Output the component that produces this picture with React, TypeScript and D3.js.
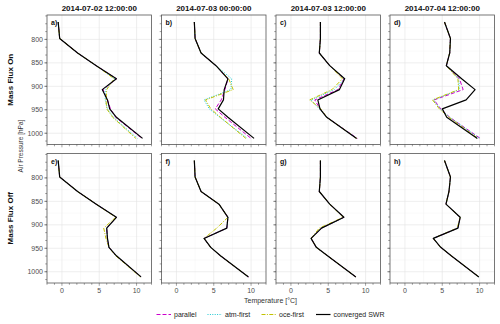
import React from "react";
import * as d3 from "d3";

// ---------- data ----------
const pressureLevels = [763, 798, 829, 856, 884, 907, 929, 948, 966, 1011];
const panelTitles = ["2014-07-02 12:00:00", "2014-07-03 00:00:00", "2014-07-03 12:00:00", "2014-07-04 12:00:00"];
const rowLabels = ["Mass Flux On", "Mass Flux Off"];
const panelLetters = ["a)", "b)", "c)", "d)", "e)", "f)", "g)", "h)"];
const xTicks = [0, 5, 10];
const yTicks = [800, 850, 900, 950, 1000];
const seriesNames = ["parallel", "atm-first", "oce-first", "converged SWR"];

// temperature per panel (a..h) at pressureLevels
const parallel = [
  [-0.5, -0.3, 2.1, 4.6, 7.3, 5.5, 6.1, 6.5, 7.2, 10.7],
  [2.4, 2.5, 3.3, 5.3, 6.9, 6.5, 6.0, 5.2, 6.5, 10.0],
  [3.95, 3.95, 3.8, 5.2, 7.1, 6.3, 3.2, 3.9, 4.8, 8.9],
  [5.3, 6.1, 6.0, 5.55, 7.3, 7.8, 3.9, 4.8, 6.0, 10.1],
  [-0.5, -0.3, 2.1, 4.6, 7.3, 6.0, 6.1, 6.3, 7.3, 10.6],
  [2.4, 2.5, 3.3, 5.7, 6.9, 6.75, 3.7, 4.6, 5.9, 9.65],
  [3.95, 3.95, 3.8, 5.2, 7.1, 4.1, 2.7, 3.4, 4.9, 8.7],
  [5.3, 6.1, 5.9, 5.5, 7.4, 7.1, 3.8, 4.8, 6.2, 9.9],
];
const atmFirst = [
  [-0.5, -0.3, 2.1, 4.6, 7.1, 5.8, 5.8, 6.1, 6.9, 10.1],
  [2.4, 2.5, 3.3, 5.3, 7.4, 7.3, 3.7, 4.4, 5.8, 9.5],
  [3.95, 3.95, 3.8, 5.2, 7.2, 5.8, 2.7, 3.8, 4.8, 8.8],
  [5.3, 6.1, 6.0, 5.55, 7.2, 7.3, 3.8, 4.7, 6.0, 10.0],
  [-0.5, -0.3, 2.1, 4.6, 7.3, 6.0, 6.1, 6.3, 7.3, 10.6],
  [2.4, 2.5, 3.3, 5.7, 6.9, 6.75, 3.7, 4.6, 5.9, 9.65],
  [3.95, 3.95, 3.8, 5.2, 7.1, 4.1, 2.7, 3.4, 4.9, 8.7],
  [5.3, 6.1, 5.9, 5.5, 7.4, 7.1, 3.8, 4.8, 6.2, 9.9],
];
const oceFirst = [
  [-0.5, -0.3, 2.1, 4.6, 7.0, 6.0, 5.9, 6.0, 6.8, 9.9],
  [2.4, 2.5, 3.3, 5.3, 7.0, 7.6, 3.9, 4.6, 5.9, 9.3],
  [3.95, 3.95, 3.8, 5.2, 6.9, 5.5, 2.5, 4.0, 4.8, 8.8],
  [5.3, 6.1, 6.0, 5.55, 7.1, 7.2, 3.7, 4.6, 5.9, 9.8],
  [-0.5, -0.3, 2.1, 4.6, 7.2, 5.6, 5.9, 6.3, 7.2, 10.5],
  [2.4, 2.5, 3.3, 5.7, 6.9, 5.4, 3.7, 4.6, 5.9, 9.65],
  [3.95, 3.95, 3.8, 5.2, 7.0, 3.8, 2.7, 3.4, 4.9, 8.7],
  [5.3, 6.1, 5.9, 5.5, 7.4, 7.0, 3.8, 4.8, 6.2, 9.9],
];
const convergedSWR = [
  [-0.5, -0.3, 2.1, 4.6, 7.3, 5.4, 6.1, 6.4, 7.3, 10.8],
  [2.4, 2.5, 3.3, 5.3, 6.9, 6.4, 6.3, 5.6, 6.9, 10.4],
  [3.95, 3.95, 3.8, 5.2, 7.2, 6.5, 3.6, 3.9, 4.8, 8.8],
  [5.3, 6.1, 6.0, 5.55, 7.6, 9.4, 8.2, 5.0, 5.6, 9.7],
  [-0.5, -0.3, 2.1, 4.6, 7.3, 6.0, 6.1, 6.3, 7.3, 10.6],
  [2.4, 2.5, 3.3, 5.7, 6.9, 6.75, 3.7, 4.6, 5.9, 9.65],
  [3.95, 3.95, 3.8, 5.2, 7.1, 4.1, 2.7, 3.4, 4.9, 8.7],
  [5.3, 6.1, 5.9, 5.5, 7.4, 7.1, 3.8, 4.8, 6.2, 9.9],
];

// ---------- styles ----------
const seriesData = [parallel, atmFirst, oceFirst, convergedSWR];
const seriesColors = ["#cc00cc", "#1ec8d2", "#c2c200", "#000000"];
const seriesDash = ["4,2", "1,1.4", "4,1.4,1,1.4", null];
const seriesWidth = [1, 1, 1, 1.2];

const FONT = "'Liberation Sans', Arial, Helvetica, sans-serif";
const lefts = [47, 161.5, 276, 390];
const tops = [15, 153.5];
const PW = 104.5;
const PH = 129.5;

export default function App() {
  const x = d3.scaleLinear().domain([-2, 12]).range([0, PW]);
  const y = d3.scaleLinear().domain([748, 1024]).range([0, PH]);
  const xMinor = d3.range(-2, 12.01, 1);
  const yMinorTicks = d3.range(750, 1024, 50 / 3);
  const line = d3
    .line<[number, number]>()
    .x((d) => x(d[0]))
    .y((d) => y(d[1]));

  const panels: JSX.Element[] = [];
  for (let r = 0; r < 2; r++) {
    for (let c = 0; c < 4; c++) {
      const idx = r * 4 + c;
      const L = lefts[c];
      const T = tops[r];
      panels.push(
        <g key={idx} transform={`translate(${L},${T})`}>
          <rect x={0} y={0} width={PW} height={PH} fill="#fff" />
          {/* minor grid */}
          {[2.5, 7.5].map((v) => (
            <line key={"xm" + v} x1={x(v)} x2={x(v)} y1={0} y2={PH} stroke="#f3f3f3" strokeWidth={0.5} />
          ))}
          {[775, 825, 875, 925, 975].map((v) => (
            <line key={"ym" + v} x1={0} x2={PW} y1={y(v)} y2={y(v)} stroke="#f3f3f3" strokeWidth={0.5} />
          ))}
          {/* major grid */}
          {xTicks.map((v) => (
            <line key={"xg" + v} x1={x(v)} x2={x(v)} y1={0} y2={PH} stroke="#e3e3e3" strokeWidth={0.6} />
          ))}
          {yTicks.map((v) => (
            <line key={"yg" + v} x1={0} x2={PW} y1={y(v)} y2={y(v)} stroke="#e3e3e3" strokeWidth={0.6} />
          ))}
          {/* series */}
          {seriesData.map((s, si) => (
            <path
              key={"s" + si}
              d={line(pressureLevels.map((p, i) => [s[idx][i], p]) as [number, number][]) || ""}
              fill="none"
              stroke={seriesColors[si]}
              strokeWidth={seriesWidth[si]}
              strokeDasharray={seriesDash[si] || undefined}
              strokeLinejoin="round"
            />
          ))}
          <rect x={0} y={0} width={PW} height={PH} fill="none" stroke="#555" strokeWidth={0.8} />
          {/* ticks */}
          {xMinor.map((v) => (
            <line key={"xt" + v} x1={x(v)} x2={x(v)} y1={PH} y2={PH + (v % 5 === 0 ? 2.8 : 1.8)} stroke="#444" strokeWidth={0.5} />
          ))}
          {yMinorTicks.map((v, i) => (
            <line key={"yt" + i} x1={0} x2={-1.8} y1={y(v)} y2={y(v)} stroke="#444" strokeWidth={0.5} />
          ))}
          {yTicks.map((v) => (
            <line key={"ytm" + v} x1={0} x2={-2.8} y1={y(v)} y2={y(v)} stroke="#444" strokeWidth={0.5} />
          ))}
          {c === 0 &&
            yTicks.map((v) => (
              <text key={"yl" + v} x={-4} y={y(v)} dy="0.35em" textAnchor="end" fontSize={7} fill="#4d4d4d" fontFamily={FONT}>
                {v}
              </text>
            ))}
          {r === 1 &&
            xTicks.map((v) => (
              <text key={"xl" + v} x={x(v)} y={PH + 9.5} textAnchor="middle" fontSize={7} fill="#4d4d4d" fontFamily={FONT}>
                {v}
              </text>
            ))}
          <text x={4} y={10} fontSize={7} fontWeight="bold" fill="#111" fontFamily={FONT}>
            {panelLetters[idx]}
          </text>
          {r === 0 && (
            <text x={PW / 2} y={-4} textAnchor="middle" fontSize={8} fontWeight="bold" fill="#111" fontFamily={FONT}>
              {panelTitles[c]}
            </text>
          )}
        </g>
      );
    }
  }

  const legendX = [156.5, 207.5, 261.5, 316];
  const legendY = 314.5;

  return (
    <svg width={500} height={324} style={{ position: "absolute", left: 0, top: 0, background: "#fff" }}>
      <rect width={500} height={324} fill="#fff" />
      {panels}
      {rowLabels.map((t, r) => (
        <text
          key={t}
          transform={`translate(12.5,${tops[r] + PH / 2}) rotate(-90)`}
          textAnchor="middle"
          fontSize={8}
          fontWeight="bold"
          fill="#111"
          fontFamily={FONT}
        >
          {t}
        </text>
      ))}
      <text transform={`translate(22.5,146) rotate(-90)`} textAnchor="middle" fontSize={6.5} fill="#333" fontFamily={FONT}>
        Air Pressure [hPa]
      </text>
      <text x={270.5} y={303} textAnchor="middle" fontSize={7} fill="#333" fontFamily={FONT}>
        Temperature [°C]
      </text>
      {seriesNames.map((n, i) => (
        <g key={n} transform={`translate(${legendX[i]},${legendY})`}>
          <line
            x1={0}
            x2={14.5}
            y1={0}
            y2={0}
            stroke={seriesColors[i]}
            strokeWidth={seriesWidth[i]}
            strokeDasharray={seriesDash[i] || undefined}
          />
          <text x={17.5} y={0} dy="0.35em" fontSize={7} fill="#222" fontFamily={FONT}>
            {n}
          </text>
        </g>
      ))}
    </svg>
  );
}
